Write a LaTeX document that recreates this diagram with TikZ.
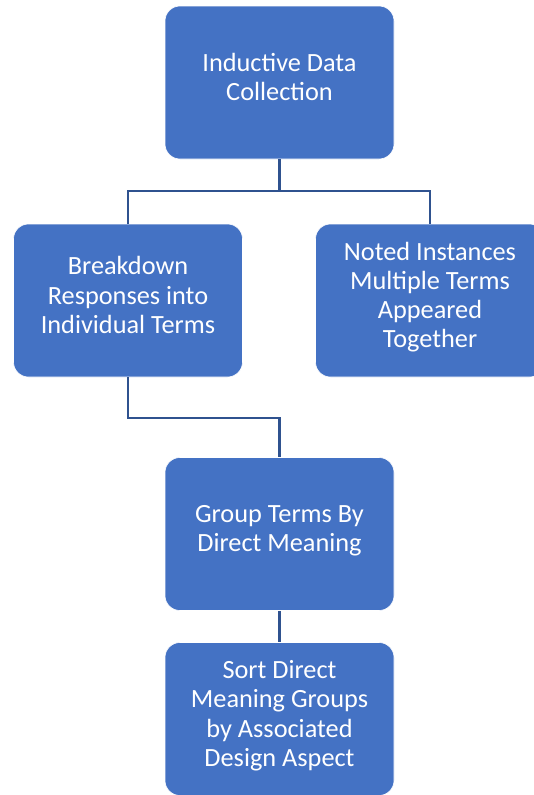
\documentclass[tikz,border=0pt]{standalone}
\usepackage{fontspec}
\setmainfont{Carlito}
\definecolor{cajaazul}{HTML}{4472C4}
\definecolor{lineaazul}{HTML}{2F528F}
\tikzset{
  paso/.style={rectangle, rounded corners=15pt, fill=cajaazul, draw=white, line width=0.6pt,
    minimum width=229pt, minimum height=153pt, inner sep=0pt, align=center, text depth=11pt,
    text=white, font=\fontsize{26.3}{29.2}\selectfont},
  enlace/.style={draw=lineaazul, line width=2.4pt}
}
\begin{document}
\begin{tikzpicture}[x=1pt, y=1pt]
    % Marco de la figura
    \useasboundingbox (0,0) rectangle (534,-795);
    \clip (0,0) rectangle (534,-795);
    % Cajas del proceso
    \node[paso] (datos) at (279.5,-82.5) {Inductive Data\\Collection};
    \node[paso] (desglose) at (128,-300.5) {Breakdown\\Responses into\\Individual Terms};
    \node[paso] (instancias) at (430,-300.5) {Noted Instances\\Multiple Terms\\Appeared\\Together};
    \node[paso] (agrupar) at (279.5,-534) {Group Terms By\\Direct Meaning};
    \node[paso] (ordenar) at (279.5,-719) {Sort Direct\\Meaning Groups\\by Associated\\Design Aspect};
    % Puntos de quiebre de las lineas
    \coordinate (ramal) at (279.5,-191);
    \coordinate (codo) at (128,-418);
    % Conectores
    \draw[enlace] (datos.south) -- (ramal);
    \draw[enlace] (desglose.north) |- (ramal) -| (instancias.north);
    \draw[enlace] (desglose.south) -- (codo) -| (agrupar.north);
    \draw[enlace] (agrupar.south) -- (ordenar.north);
\end{tikzpicture}
\end{document}
